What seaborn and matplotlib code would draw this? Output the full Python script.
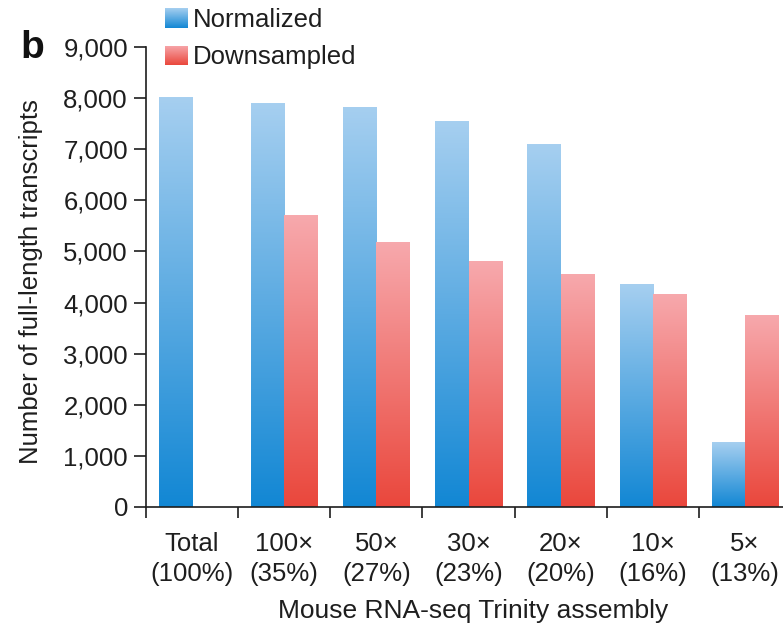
import numpy as np
import pandas as pd
import matplotlib
matplotlib.use("Agg")
import matplotlib.pyplot as plt
import seaborn as sns
from matplotlib.colors import LinearSegmentedColormap
from matplotlib.ticker import FuncFormatter, FixedLocator

categories = ["Total\n(100%)", "100×\n(35%)", "50×\n(27%)", "30×\n(23%)",
              "20×\n(20%)", "10×\n(16%)", "5×\n(13%)"]
normalized = [8020, 7900, 7830, 7550, 7100, 4360, 1270]
downsampled = [np.nan, 5710, 5190, 4810, 4560, 4170, 3760]
series = ["Normalized", "Downsampled"]
yticks = [0, 1000, 2000, 3000, 4000, 5000, 6000, 7000, 8000, 9000]

blue_top, blue_bot = "#a6cff0", "#1287d4"
red_top, red_bot = "#f7a9ad", "#ea473c"

df = pd.DataFrame({
    "assembly": categories * 2,
    "count": normalized + downsampled,
    "type": [series[0]] * len(categories) + [series[1]] * len(categories),
})

sns.set_style("white")
plt.rcParams["font.family"] = ["Liberation Sans", "DejaVu Sans"]
FS = 18.5
TXT = "#1e1e1e"

fig = plt.figure(figsize=(7.83, 6.31), dpi=100)
ax = fig.add_axes([146 / 783, 1 - 507 / 631, (791 - 146) / 783, (507 - 47) / 631])

sns.barplot(data=df, x="assembly", y="count", hue="type", order=categories,
            hue_order=series, palette=[blue_bot, red_bot], width=0.72,
            dodge=True, ax=ax, edgecolor="white", linewidth=0.8, legend=True)

# vertical gradients inside bars
cmaps = {
    series[0]: LinearSegmentedColormap.from_list("b", [blue_bot, blue_top]),
    series[1]: LinearSegmentedColormap.from_list("r", [red_bot, red_top]),
}
grad = np.linspace(0, 1, 256).reshape(-1, 1)
for container, name in zip(ax.containers, series):
    for patch in container.patches:
        h = patch.get_height()
        if not np.isfinite(h) or h <= 0:
            continue
        x0 = patch.get_x()
        w = patch.get_width()
        im = ax.imshow(grad, cmap=cmaps[name], origin="lower", aspect="auto",
                       extent=[x0, x0 + w, 0, h], zorder=patch.get_zorder(),
                       interpolation="bilinear")
        im.set_clip_path(patch)
        patch.set_facecolor("none")
ax.set_xlim(-0.5, len(categories) - 0.5)
ax.set_ylim(0, 9000)

# axes styling
for s in ["top", "right"]:
    ax.spines[s].set_visible(False)
for s in ["left", "bottom"]:
    ax.spines[s].set_color(TXT)
    ax.spines[s].set_linewidth(1.2)

ax.yaxis.set_major_locator(FixedLocator(yticks))
ax.yaxis.set_major_formatter(FuncFormatter(lambda v, p: f"{int(v):,}"))
ax.tick_params(axis="y", direction="out", length=9, width=1.2, color=TXT,
               labelsize=FS, pad=4, labelcolor=TXT, left=True)
ax.set_xticks(range(len(categories)))
ax.set_xticklabels(categories, linespacing=1.3)
ax.tick_params(axis="x", length=0, labelsize=FS, pad=18, labelcolor=TXT)
ax.set_xticks(np.arange(len(categories)) - 0.5, minor=True)
ax.tick_params(axis="x", which="minor", direction="out", length=8, width=1.2,
               color=TXT, bottom=True)

ax.set_xlabel("Mouse RNA-seq Trinity assembly", fontsize=FS + 0.5, color=TXT)
ax.xaxis.set_label_coords((473 - 146) / (791 - 146), -(623 - 507) / 460)
ax.xaxis.label.set_va("bottom")
ax.set_ylabel("Number of full-length transcripts", fontsize=FS, color=TXT)
ax.yaxis.set_label_coords(-(146 - 19) / 645, 0.49)
ax.yaxis.label.set_va("top")

# legend
leg = ax.legend(loc="upper left", bbox_to_anchor=(165 / 783, 1 - 8 / 631),
                bbox_transform=fig.transFigure, frameon=False, fontsize=FS,
                handlelength=0.86, handleheight=0.78, handletextpad=0.22,
                labelspacing=0.52, borderaxespad=0, borderpad=0)
for t in leg.get_texts():
    t.set_color(TXT)
fig.canvas.draw()
for hp, name in zip(leg.get_patches(), series):
    bb = hp.get_window_extent().transformed(fig.transFigure.inverted())
    hp.set_facecolor("none")
    hp.set_edgecolor("none")
    lax = fig.add_axes([bb.x0, bb.y0, bb.width, bb.height])
    lax.imshow(grad, cmap=cmaps[name], origin="lower", aspect="auto",
               interpolation="bilinear")
    lax.axis("off")

fig.text(20 / 783, 1 - 58 / 631, "b", fontsize=28, fontweight="bold",
         color="#111111", ha="left", va="baseline")

fig.savefig("out.png", dpi=100)
